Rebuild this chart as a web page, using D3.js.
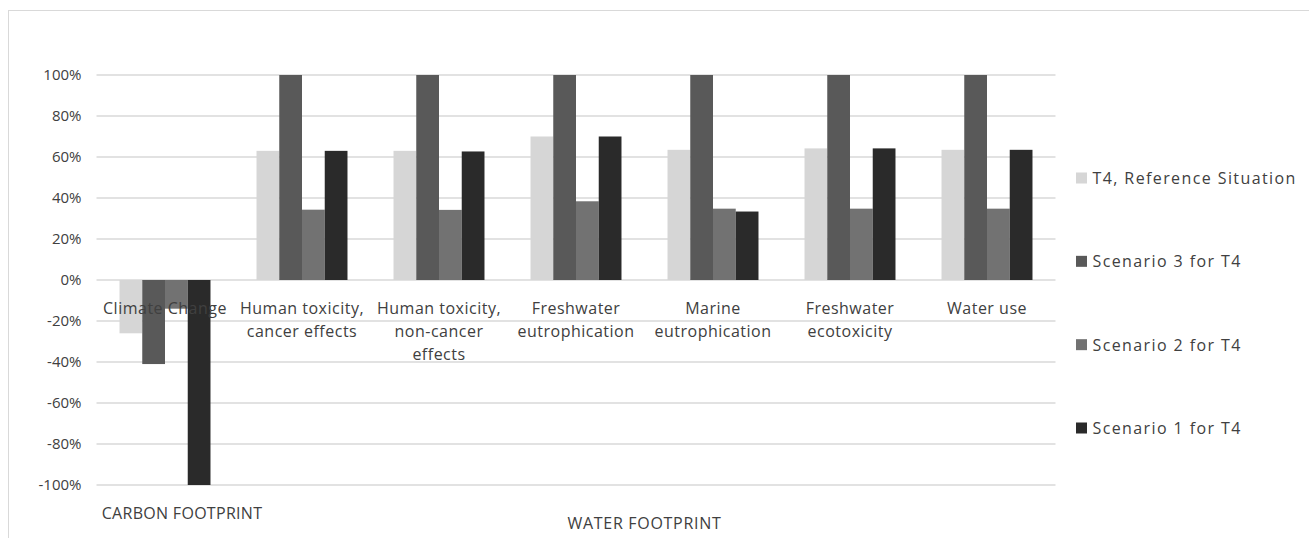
<!DOCTYPE html>
<html>
<head>
<meta charset="utf-8">
<script src="https://cdn.jsdelivr.net/npm/d3@7"></script>
<style>
  html, body { margin: 0; padding: 0; background: #ffffff; }
  svg { display: block; }
  text { font-family: "Open Sans", "DejaVu Sans", sans-serif; fill: #404040; }
</style>
</head>
<body>
<svg id="chart" width="1309" height="538"></svg>
<script>
// ---- data ----
const categories = [
  ["Climate Change"],
  ["Human toxicity,", "cancer effects"],
  ["Human toxicity,", "non-cancer", "effects"],
  ["Freshwater", "eutrophication"],
  ["Marine", "eutrophication"],
  ["Freshwater", "ecotoxicity"],
  ["Water use"]
];
const seriesNames = ["T4, Reference Situation", "Scenario 3 for T4", "Scenario 2 for T4", "Scenario 1 for T4"];
const refValues   = [-0.26, 0.63, 0.63, 0.70, 0.635, 0.642, 0.635];
const scen3Values = [-0.41, 1.00, 1.00, 1.00, 1.00, 1.00, 1.00];
const scen2Values = [-0.14, 0.343, 0.342, 0.384, 0.348, 0.348, 0.348];
const scen1Values = [-1.00, 0.63, 0.627, 0.70, 0.334, 0.642, 0.635];
const yTicks = [-1, -0.8, -0.6, -0.4, -0.2, 0, 0.2, 0.4, 0.6, 0.8, 1];
const groupLabels = ["CARBON FOOTPRINT", "WATER FOOTPRINT"];
const colors = ["#d6d6d6", "#595959", "#727272", "#2a2a2a"];

const series = [refValues, scen3Values, scen2Values, scen1Values];
const catKeys = categories.map(c => c.join(" "));

const svg = d3.select("#chart");

// outer chart border
svg.append("rect")
  .attr("x", 8.5).attr("y", 10.5)
  .attr("width", 1310).attr("height", 540)
  .attr("fill", "none").attr("stroke", "#d9d9d9").attr("stroke-width", 1);

const plot = { left: 96.5, right: 1055.5, top: 75, bottom: 485 };

const y = d3.scaleLinear().domain([-1, 1]).range([plot.bottom, plot.top]);
const x0 = d3.scaleBand().domain(catKeys).range([plot.left, plot.right]).paddingInner(0).paddingOuter(0);
const x1 = d3.scaleBand().domain(d3.range(series.length))
  .range([x0.bandwidth() * 0.168, x0.bandwidth() * 0.832]).padding(0);

// gridlines
svg.append("g").selectAll("line").data(yTicks).join("line")
  .attr("x1", plot.left).attr("x2", plot.right)
  .attr("y1", d => y(d)).attr("y2", d => y(d))
  .attr("stroke", "#d9d9d9").attr("stroke-width", 1.5);

// y-axis tick labels
const pct = d3.format(".0%");
const yAxis = d3.axisLeft(y).tickValues(yTicks)
  .tickFormat(d => pct(d).replace("\u2212", "-")).tickSize(0).tickPadding(0);
const yg = svg.append("g").attr("transform", `translate(${plot.left - 15},0)`).call(yAxis);
yg.select(".domain").remove();
yg.selectAll("text").style("font-size", "15px").style("fill", "#404040")
  .style("font-family", '"Open Sans", sans-serif');

// bars
const groups = svg.append("g").selectAll("g").data(catKeys).join("g")
  .attr("transform", d => `translate(${x0(d)},0)`);
groups.selectAll("rect")
  .data((d, i) => series.map((s, k) => ({ k, v: s[i] })))
  .join("rect")
  .attr("x", d => x1(d.k))
  .attr("width", x1.bandwidth())
  .attr("y", d => y(Math.max(0, d.v)))
  .attr("height", d => Math.abs(y(d.v) - y(0)))
  .attr("fill", d => colors[d.k]);

// category labels (drawn over the bars)
const labelG = svg.append("g");
categories.forEach((lines, i) => {
  const cx = x0(catKeys[i]) + x0.bandwidth() / 2;
  const t = labelG.append("text")
    .attr("text-anchor", "middle")
    .style("font-size", "16px")
    .style("letter-spacing", "0.5px");
  lines.forEach((ln, j) => {
    t.append("tspan").attr("x", cx).attr("y", y(0) + 34 + j * 23).text(ln);
  });
});

// group labels
svg.append("text").attr("x", 182).attr("y", 519).attr("text-anchor", "middle")
  .style("font-size", "16px").style("letter-spacing", "0.3px").text(groupLabels[0]);
const waterCenter = (x0(catKeys[1]) + x0(catKeys[6]) + x0.bandwidth()) / 2;
svg.append("text").attr("x", waterCenter).attr("y", 529).attr("text-anchor", "middle")
  .style("font-size", "16px").style("letter-spacing", "0.7px").text(groupLabels[1]);

// legend
const legY = d3.scalePoint().domain(d3.range(seriesNames.length)).range([178, 428]);
const leg = svg.append("g").selectAll("g").data(seriesNames).join("g")
  .attr("transform", (d, i) => `translate(1076,${legY(i)})`);
leg.append("rect").attr("x", 0).attr("y", -5.5).attr("width", 11).attr("height", 11)
  .attr("fill", (d, i) => colors[i]);
leg.append("text").attr("x", 16.5).attr("y", 6).style("font-size", "16px")
  .style("letter-spacing", "1.4px").text(d => d);
</script>
</body>
</html>
